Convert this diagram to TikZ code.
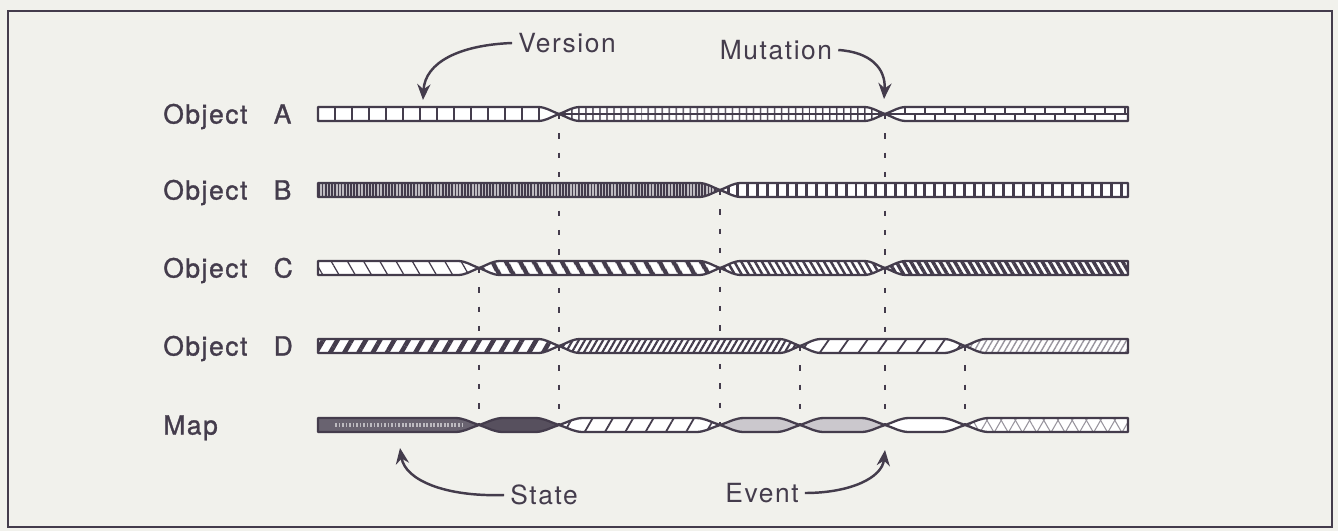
\documentclass[tikz,border=0pt]{standalone}
\usepackage{fontspec}
\setmainfont{TeX Gyre Heros}[LetterSpace=6]
\newfontfamily\lblfont{TeX Gyre Heros}[LetterSpace=6, FakeBold=1.2]
\usetikzlibrary{arrows.meta, patterns.meta}
\definecolor{cInk}{RGB}{68,60,76}
\definecolor{cPaper}{RGB}{241,241,236}
% half height of a bar, in px
\newcommand{\bh}{7}
% one stretch of a bar: x0, x1, y, left taper, right taper (0 = square end)
\newcommand{\segpath}[5]{(#1,#3) .. controls ({#1+0.5*#4},{#3-0.6*\bh}) and ({#1+0.6*#4},{#3-\bh}) .. ({#1+#4},{#3-\bh})
  -- ({#2-#5},{#3-\bh}) .. controls ({#2-0.6*#5},{#3-\bh}) and ({#2-0.5*#5},{#3-0.6*\bh}) .. (#2,#3)
  .. controls ({#2-0.5*#5},{#3+0.6*\bh}) and ({#2-0.6*#5},{#3+\bh}) .. ({#2-#5},{#3+\bh})
  -- ({#1+#4},{#3+\bh}) .. controls ({#1+0.6*#4},{#3+\bh}) and ({#1+0.5*#4},{#3+0.6*\bh}) .. (#1,#3) -- cycle}
\newcommand{\barseg}[6][]{\draw[bar,#1] \segpath{#2}{#3}{#4}{#5}{#6};}
\tikzset{
	bar/.style     ={draw=cInk, line width=1.3pt, line join=round, preaction={fill=white}},
	hatch/.style args={#1/#2/#3}{pattern={Lines[angle=#1,distance=#2,line width=#3]}, pattern color=cInk},
	seggrid/.style ={hatch=90/4pt/0.9pt},
	segstripe/.style={preaction={fill=cInk!35}, hatch=90/1.8pt/1pt},
	segcell/.style ={hatch=90/5.6pt/1.7pt},
	inner/.style   ={draw=cInk, line width=0.9pt},
	guide/.style   ={draw=cInk, line width=0.9pt, dash pattern=on 3pt off 8pt},
	arr/.style     ={draw=cInk, line width=1.4pt, -{Stealth[length=9pt,width=7.5pt]}},
	lbl/.style     ={text=cInk, anchor=base west, inner sep=0pt, font=\fontsize{15}{18}\lblfont},
	note/.style    ={text=cInk},
}
\begin{document}
\begin{tikzpicture}[x=0.02cm, y=-0.02cm, font=\fontsize{15}{18}\selectfont]
% paper and frame
\fill[cPaper] (0,0) rectangle (1338,531);
\draw[cInk, line width=1.4pt] (8,11) rectangle (1332,527);

% pinch points
\coordinate (pA1) at (559,114);
\coordinate (pA2) at (885,114);
\coordinate (pB1) at (720,190);
\coordinate (pC1) at (479,268);
\coordinate (pD2) at (800,346);
\coordinate (pD3) at (965,346);
\coordinate (pM1) at (479,425);
\coordinate (pM2) at (559,425);
\coordinate (pM3) at (720,425);
\coordinate (pM4) at (800,425);
\coordinate (pM5) at (885,425);
\coordinate (pM6) at (965,425);

% dashed guides
\foreach \a/\b in {pC1/pM1, pA1/pM2, pB1/pM3, pD2/pM4, pA2/pM5, pD3/pM6}
	\draw[guide] (\a) -- (\b);

% row labels
\node[lbl] (labA) at (163,123.5) {Object\hspace{1em}A};
\node[lbl] (labB) at (163,199.5) {Object\hspace{1em}B};
\node[lbl] (labC) at (163,277.5) {Object\hspace{1em}C};
\node[lbl] (labD) at (163,355.5) {Object\hspace{1em}D};
\node[lbl] (labM) at (163,434.5) {Map};

% Object A
\barseg{318}{559}{114}{0}{22}
\begin{scope}
	\clip \segpath{318}{559}{114}{0}{22};
	\foreach \x in {335,352,...,545} \draw[inner, line width=1.2pt] (\x,107) -- (\x,121);
\end{scope}
\barseg[seggrid]{559}{885}{114}{22}{22}
\begin{scope}
	\clip \segpath{559}{885}{114}{22}{22};
	\draw[inner] (559,114) -- (885,114);
\end{scope}
\barseg{885}{1128}{114}{22}{0}
\begin{scope}
	\clip \segpath{885}{1128}{114}{22}{0};
	\draw[inner] (885,114) -- (1128,114);
	\foreach \x in {905,925,...,1125} \draw[inner] (\x,107) -- (\x,114);
	\foreach \x in {915,935,...,1125} \draw[inner] (\x,114) -- (\x,121);
\end{scope}

% Object B
\barseg[segstripe]{318}{720}{190}{0}{22}
\barseg[segcell]{720}{1128}{190}{22}{0}

% Object C
\barseg[hatch=120/8pt/0.7pt]{318}{479}{268}{0}{22}
\barseg[hatch=120/6.5pt/2.6pt]{479}{720}{268}{22}{22}
\barseg[hatch=120/3.4pt/1.4pt]{720}{885}{268}{22}{22}
\barseg[hatch=120/3.6pt/2pt]{885}{1128}{268}{22}{0}

% Object D
\barseg[hatch=60/7pt/2.6pt]{318}{559}{346}{0}{22}
\barseg[hatch=60/3pt/1.2pt]{559}{800}{346}{22}{22}
\barseg[hatch=55/9pt/1pt]{800}{965}{346}{22}{22}
\barseg[hatch=60/3pt/0.8pt, pattern color=cInk!55]{965}{1128}{346}{22}{0}

% Map
\barseg[preaction={fill=cInk!80}]{318}{479}{425}{0}{25}
\begin{scope}
	\clip \segpath{318}{479}{425}{0}{25};
	\draw[cInk!35, line width=2.5pt, dash pattern=on 1pt off 1pt] (335,425) -- (462,425);
\end{scope}
\barseg[preaction={fill=cInk!90}]{479}{559}{425}{25}{25}
\barseg[hatch=60/10pt/1pt]{559}{720}{425}{25}{25}
\barseg[preaction={fill=cInk!28}]{720}{800}{425}{25}{25}
\barseg[preaction={fill=cInk!28}]{800}{885}{425}{25}{25}
\barseg{885}{965}{425}{25}{25}
\barseg[preaction={pattern={Lines[angle=60,distance=7pt,line width=0.6pt]}, pattern color=cInk!55},
	hatch=-60/7pt/0.6pt, pattern color=cInk!55]{965}{1128}{425}{25}{0}

% annotations
\node[note] (ver) at (567,43) {Version};
\coordinate (verTip) at (423,100);
\draw[arr] (ver.west) .. controls (460,45) and (425,62) .. (verTip);

\node[note] (mut) at (776,50) {Mutation};
\coordinate (mutTip) at (884,99);
\draw[arr] (mut.east) .. controls (870,52) and (886,68) .. (mutTip);

\node[note] (state) at (544,495) {State};
\coordinate (stateTip) at (400,448);
\draw[arr] (state.west) .. controls (445,497) and (405,480) .. (stateTip);

\node[note] (evt) at (762,493) {Event};
\coordinate (evtTip) at (885,450);
\draw[arr] (evt.east) .. controls (850,493) and (882,478) .. (evtTip);
\end{tikzpicture}
\end{document}
